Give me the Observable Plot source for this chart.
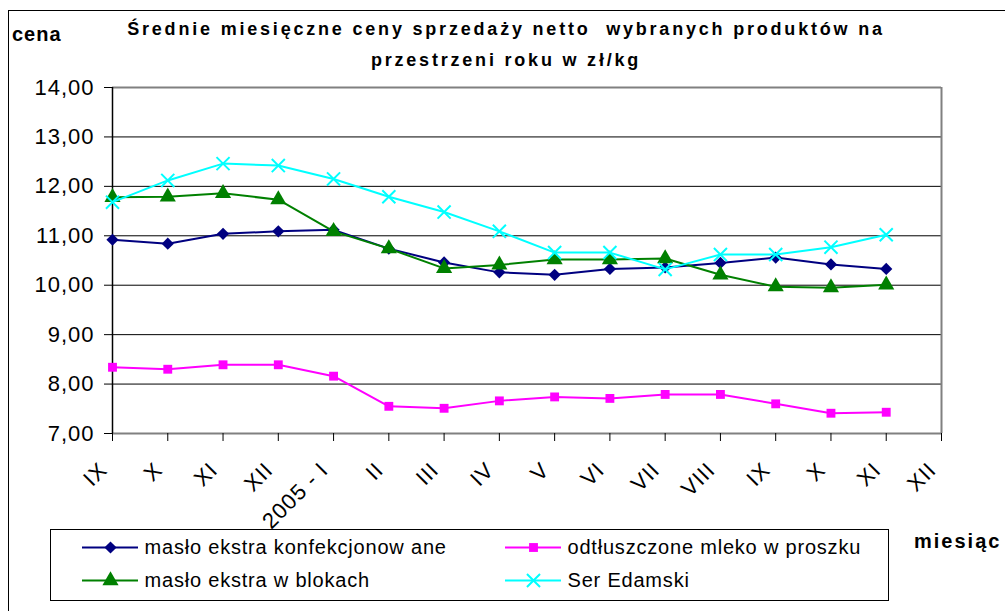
<!DOCTYPE html>
<html>
<head>
<meta charset="utf-8">
<script src="https://cdn.jsdelivr.net/npm/d3@7"></script>
<script src="https://cdn.jsdelivr.net/npm/@observablehq/plot@0.6"></script>
<style>
  html, body { margin: 0; padding: 0; background: #fff; }
  body { width: 1005px; height: 611px; position: relative; overflow: hidden; font-family: "Liberation Sans", Arial, sans-serif; }
  .abs { position: absolute; white-space: nowrap; }
  #frame { left: 8px; top: 10px; width: 1100px; height: 700px; border: 1px solid #000; box-sizing: border-box; }
  #title { left: 0; width: 1012px; top: 14px; text-align: center; font-weight: bold; font-size: 18px; line-height: 31px; letter-spacing: 2.8px; }
  #cena { left: 12px; top: 23px; font-weight: bold; font-size: 20px; letter-spacing: 1px; }
  #miesiac { left: 914px; top: 530px; font-weight: bold; font-size: 20px; letter-spacing: 2px; }
  #legend { left: 50px; top: 529px; width: 839px; height: 72px; border: 1px solid #000; box-sizing: border-box; }
  #chart { left: 0; top: 0; }
</style>
</head>
<body>
<div id="frame" class="abs"></div>
<div id="chart" class="abs"></div>
<div id="title" class="abs">Średnie miesięczne ceny sprzedaży netto&nbsp; wybranych produktów na<br>przestrzeni roku w zł/kg</div>
<div id="cena" class="abs">cena</div>
<div id="miesiac" class="abs">miesiąc</div>
<div id="legend" class="abs"></div>
<script>
// Month labels (categories along x)
const months = ["IX", "X", "XI", "XII", "2005 - I", "II", "III", "IV", "V", "VI", "VII", "VIII", "IX", "X", "XI", "XII"];
// Y ticks
const yTicks = [7, 8, 9, 10, 11, 12, 13, 14];
// Series names
const seriesNames = ["masło ekstra konfekcjonow ane", "odtłuszczone mleko w proszku", "masło ekstra w blokach", "Ser Edamski"];
// Series values (IX 2004 .. XI 2005)
const masloKonf = [10.92, 10.84, 11.04, 11.09, 11.12, 10.74, 10.46, 10.26, 10.21, 10.33, 10.36, 10.45, 10.56, 10.42, 10.33];
const mleko     = [8.34, 8.30, 8.39, 8.39, 8.16, 7.55, 7.51, 7.66, 7.74, 7.71, 7.79, 7.79, 7.60, 7.41, 7.43];
const masloBlok = [11.78, 11.79, 11.86, 11.73, 11.09, 10.74, 10.34, 10.41, 10.52, 10.52, 10.54, 10.21, 9.97, 9.95, 10.01];
const ser       = [11.68, 12.12, 12.46, 12.42, 12.15, 11.79, 11.48, 11.09, 10.66, 10.66, 10.32, 10.62, 10.62, 10.77, 11.02];

const styles = [
  {color: "#000080", symbol: "diamond2", r: 5.5, fill: true},
  {color: "#FF00FF", symbol: "square", r: 5, fill: true},
  {color: "#008000", symbol: "triangle", r: 6, fill: true},
  {color: "#00FFFF", symbol: "times", r: 6, fill: false}
];
const allSeries = [masloKonf, mleko, masloBlok, ser];

const data = [];
allSeries.forEach((vals, s) => vals.forEach((v, i) => data.push({s, i, v})));

const idx = d3.range(months.length);
const fmt = d => d.toFixed(2).replace(".", ",");

function dotMark(rows, st, xo, yo) {
  return Plot.dot(rows, st.fill
    ? {x: xo, y: yo, symbol: () => st.symbol, r: st.r, fill: st.color, stroke: "none"}
    : {x: xo, y: yo, symbol: () => st.symbol, r: st.r, stroke: st.color, strokeWidth: 2, fill: "none"});
}

const marks = [
  Plot.ruleY(yTicks.filter(t => t > 7 && t < 14), {stroke: "#000", strokeWidth: 1}),
  Plot.ruleY([14], {stroke: "#808080", strokeWidth: 2}),
  Plot.ruleX([15], {stroke: "#808080", strokeWidth: 2}),
  Plot.ruleY([7], {stroke: "#808080", strokeWidth: 2}),
  Plot.ruleX([0], {stroke: "#000", strokeWidth: 1.5}),
  Plot.axisY({ticks: yTicks, tickFormat: fmt, tickSize: 8, tickPadding: 10, fontSize: 22, stroke: "#000", label: null}),
  Plot.axisX({ticks: idx, tickFormat: () => "", tickSize: 8, stroke: "#000", label: null}),
  Plot.text(idx, {x: d => d, y: 7, text: d => months[d], rotate: -45, textAnchor: "end", lineAnchor: "middle", dx: -9, dy: 33, fontSize: 22, fill: "#000"})
];
styles.forEach((st, s) => {
  const rows = data.filter(d => d.s === s);
  marks.push(Plot.line(rows, {x: "i", y: "v", stroke: st.color, strokeWidth: 2}));
  marks.push(dotMark(rows, st, "i", "v"));
});

const chart = Plot.plot({
  width: 1005, height: 611,
  marginTop: 87, marginLeft: 112, marginRight: 64, marginBottom: 178,
  x: {domain: [0, 15], axis: null},
  y: {domain: [7, 14], axis: null},
  symbol: {type: "identity"},
  style: {fontFamily: "'Liberation Sans', Arial, sans-serif", background: "transparent", color: "#000", overflow: "visible"},
  marks
});
d3.select(chart).selectAll("text").style("letter-spacing", "1px");
document.getElementById("chart").appendChild(chart);

// Legend: drawn with Plot as well (small plot)
const legRows = seriesNames.map((name, s) => ({name, s, lx: s % 2 ? 482 : 59, ly: Math.floor(s / 2) ? 50 : 17}));
const legMarks = [
  Plot.ruleY(legRows, {x1: d => d.lx - 28, x2: d => d.lx + 28, y: "ly", stroke: d => styles[d.s].color, strokeWidth: 2})
];
styles.forEach((st, s) => legMarks.push(dotMark([legRows[s]], st, "lx", "ly")));
legMarks.push(Plot.text(legRows, {x: d => d.lx + 34, y: "ly", text: "name", textAnchor: "start", fontSize: 20, fill: "#000"}));
const legend = Plot.plot({
  width: 837, height: 70, margin: 0,
  x: {domain: [0, 837], axis: null},
  y: {domain: [0, 70], axis: null, reverse: true},
  symbol: {type: "identity"},
  style: {fontFamily: "'Liberation Sans', Arial, sans-serif", background: "transparent", color: "#000"},
  marks: legMarks
});
d3.select(legend).selectAll("text").style("letter-spacing", "0.8px");
document.getElementById("legend").appendChild(legend);
</script>
</body>
</html>
